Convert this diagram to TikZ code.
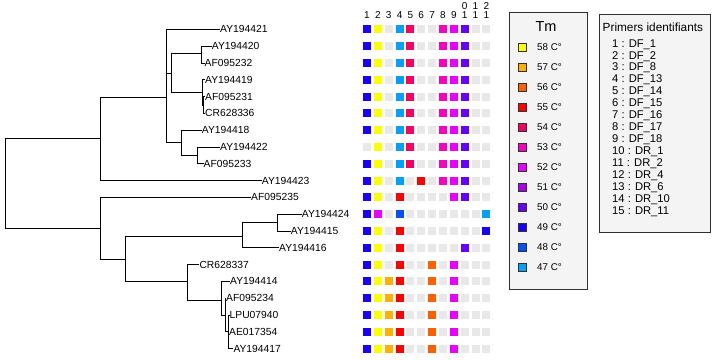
\documentclass[tikz,border=0pt]{standalone}
\usepackage{fontspec}
\setmainfont{Liberation Sans}
\definecolor{colY}{HTML}{FFFF00}
\definecolor{colO}{HTML}{FFB000}
\definecolor{colD}{HTML}{FF6000}
\definecolor{colR}{HTML}{FF0000}
\definecolor{colK}{HTML}{F80060}
\definecolor{colP}{HTML}{F800C0}
\definecolor{colM}{HTML}{E800FF}
\definecolor{colA}{HTML}{A800F0}
\definecolor{colU}{HTML}{6600FF}
\definecolor{colB}{HTML}{1800FF}
\definecolor{colN}{HTML}{0050FF}
\definecolor{colL}{HTML}{00A0FF}
\definecolor{colg}{HTML}{E8E8E8}
\definecolor{boxfill}{HTML}{F4F4F4}
\definecolor{boxline}{HTML}{303030}
\tikzset{
  leaf/.style={anchor=west, inner sep=0pt, font=\fontsize{10.3}{12}\selectfont},
  br/.style={line width=0.8pt, black},
  hdr/.style={inner sep=0pt, font=\fontsize{10}{11}\selectfont},
  legtext/.style={anchor=west, inner sep=0pt, font=\fontsize{9.8}{12}\selectfont},
  primtext/.style={anchor=west, inner sep=0pt, font=\fontsize{11.2}{12}\selectfont},
  legbox/.style={draw=boxline, fill=boxfill, line width=0.8pt},
  legsq/.style={draw=black!80, line width=0.6pt}
}
\begin{document}
\begin{tikzpicture}[x=1pt,y=-1pt]
\useasboundingbox (0,0) rectangle (717,359);
\fill[white] (0,0) rectangle (717,359);
% ---------- tree: internal nodes
\coordinate (R) at (5.7,183.3);
\coordinate (A) at (100,138.3);
\coordinate (C) at (166,97.3);
\coordinate (D) at (171.3,73.3);
\coordinate (F) at (201.7,53);
\coordinate (G) at (202.7,92.3);
\coordinate (G2) at (203.8,104.9);
\coordinate (E) at (181.7,142.5);
\coordinate (H) at (197.7,155.3);
\coordinate (B) at (100,228.3);
\coordinate (I) at (125.3,259.3);
\coordinate (J) at (242.3,236);
\coordinate (L) at (277.3,222.5);
\coordinate (K) at (187.7,281.7);
\coordinate (M) at (221,300);
\coordinate (N) at (225,315);
\coordinate (O) at (228.3,331.7);
% ---------- leaves
\node[leaf] (t0) at (220,29.3) {AY194421};
\node[leaf] (t1) at (211.7,46.1) {AY194420};
\node[leaf] (t2) at (204.5,62.9) {AF095232};
\node[leaf] (t3) at (205,79.7) {AY194419};
\node[leaf] (t4) at (205,96.5) {AF095231};
\node[leaf] (t5) at (205,113.3) {CR628336};
\node[leaf] (t6) at (201.7,130.1) {AY194418};
\node[leaf] (t7) at (220,146.9) {AY194422};
\node[leaf] (t8) at (203.5,163.7) {AF095233};
\node[leaf] (t9) at (261.7,180.5) {AY194423};
\node[leaf] (t10) at (251,197.3) {AF095235};
\node[leaf] (t11) at (301.7,214.1) {AY194424};
\node[leaf] (t12) at (290.7,230.9) {AY194415};
\node[leaf] (t13) at (279,247.7) {AY194416};
\node[leaf] (t14) at (199.3,264.5) {CR628337};
\node[leaf] (t15) at (230,281.3) {AY194414};
\node[leaf] (t16) at (226,298.1) {AF095234};
\node[leaf] (t17) at (229.5,314.9) {LPU07940};
\node[leaf] (t18) at (229,331.7) {AE017354};
\node[leaf] (t19) at (233.3,348.5) {AY194417};
% ---------- branches
\draw[br] (R) |- (A);
\draw[br] (R) |- (B);
\draw[br] (A) |- (C);
\draw[br] (A) |- (t9.west);
\draw[br] (C) |- (t0.west);
\draw[br] (C) |- (D);
\draw[br] (C) |- (E);
\draw[br] (D) |- (F);
\draw[br] (D) |- (G);
\draw[br] (F) |- (t1.west);
\draw[br] (F) |- (t2.west);
\draw[br] (G) |- (t3.west);
\draw[br] (G) |- (G2);
\draw[br] (G2) |- (t4.west);
\draw[br] (G2) |- (t5.west);
\draw[br] (E) |- (t6.west);
\draw[br] (E) |- (H);
\draw[br] (H) |- (t7.west);
\draw[br] (H) |- (t8.west);
\draw[br] (B) |- (t10.west);
\draw[br] (B) |- (I);
\draw[br] (I) |- (J);
\draw[br] (I) |- (K);
\draw[br] (J) |- (L);
\draw[br] (J) |- (t13.west);
\draw[br] (L) |- (t11.west);
\draw[br] (L) |- (t12.west);
\draw[br] (K) |- (t14.west);
\draw[br] (K) |- (M);
\draw[br] (M) |- (t15.west);
\draw[br] (M) |- (N);
\draw[br] (N) |- (t16.west);
\draw[br] (N) |- (O);
\draw[br] (O) |- (t17.west);
\draw[br] (O) |- (t18.west);
\draw[br] (O) |- (t19.west);
% ---------- column headers
\foreach \c in {1,...,9}{
  \node[hdr] (h\c) at ({367+10.85*(\c-1)},15.5) {\c};
}
\foreach \c/\d in {10/0,11/1,12/2}{
  \node[hdr] (ht\c) at ({367+10.85*(\c-1)},6) {\d};
  \node[hdr] (hb\c) at ({367+10.85*(\c-1)},15.5) {1};
}
% ---------- grid
\foreach \r/\row in {
 0/{B,Y,g,L,K,g,g,P,M,U,g,g},
 1/{B,Y,g,L,K,g,g,P,M,U,g,g},
 2/{B,Y,g,L,K,g,g,P,M,U,g,g},
 3/{B,Y,g,L,K,g,g,P,M,U,g,g},
 4/{B,Y,g,L,K,g,g,P,M,U,g,g},
 5/{B,Y,g,L,K,g,g,P,M,U,g,g},
 6/{B,Y,g,L,K,g,g,P,M,U,g,g},
 7/{g,Y,g,L,K,g,g,P,M,U,g,g},
 8/{B,Y,g,L,K,g,g,P,M,U,g,g},
 9/{B,Y,g,L,g,R,g,P,M,U,g,g},
 10/{B,Y,g,R,g,g,g,g,M,U,g,g},
 11/{B,M,g,N,g,g,g,g,g,g,g,L},
 12/{B,Y,g,R,g,g,g,g,g,g,g,B},
 13/{B,Y,g,R,g,g,g,g,g,U,g,g},
 14/{B,Y,g,R,g,g,D,g,M,g,g,g},
 15/{B,Y,O,R,g,g,D,g,M,g,g,g},
 16/{B,Y,O,R,g,g,D,g,M,g,g,g},
 17/{B,Y,O,R,g,g,D,g,M,g,g,g},
 18/{B,Y,O,R,g,g,D,g,M,g,g,g},
 19/{B,Y,O,R,g,g,D,g,M,g,g,g}}{
  \foreach \k [count=\c] in \row {
    \fill[col\k] ({367+10.85*(\c-1)-4},{29.3+16.8*\r-4}) rectangle ++(8,8);
  }
}
% ---------- Tm legend
\draw[legbox] (509,12.3) rectangle (587,289.3);
\node[inner sep=0pt, font=\fontsize{14.5}{16}\selectfont] (tm) at (546,26.7) {Tm};
\foreach \k/\t [count=\i from 0] in {Y/58,O/57,D/56,R/55,K/54,P/53,M/52,A/51,U/50,B/49,N/48,L/47}{
  \draw[legsq, fill=col\k] ({522-4},{47.5+20*\i-4}) rectangle ++(8,8);
  \node[legtext] (lg\i) at (537,{47.5+20*\i}) {\t{} C°};
}
% ---------- Primers legend
\draw[legbox] (599.3,14) rectangle (710,232.7);
\node[anchor=west, inner sep=0pt, font=\fontsize{11.8}{13}\selectfont] (pt) at (602.5,27.3) {Primers identifiants};
\foreach \t [count=\i from 0] in {1 : DF\_1, 2 : DF\_2, 3 : DF\_8, 4 : DF\_13, 5 : DF\_14, 6 : DF\_15, 7 : DF\_16, 8 : DF\_17, 9 : DF\_18, 10 : DR\_1, 11 : DR\_2, 12 : DR\_4, 13 : DR\_6, 14 : DR\_10, 15 : DR\_11}{
  \node[primtext] (p\i) at (612,{44.3+11.95*\i}) {\t};
}
\end{tikzpicture}
\end{document}
